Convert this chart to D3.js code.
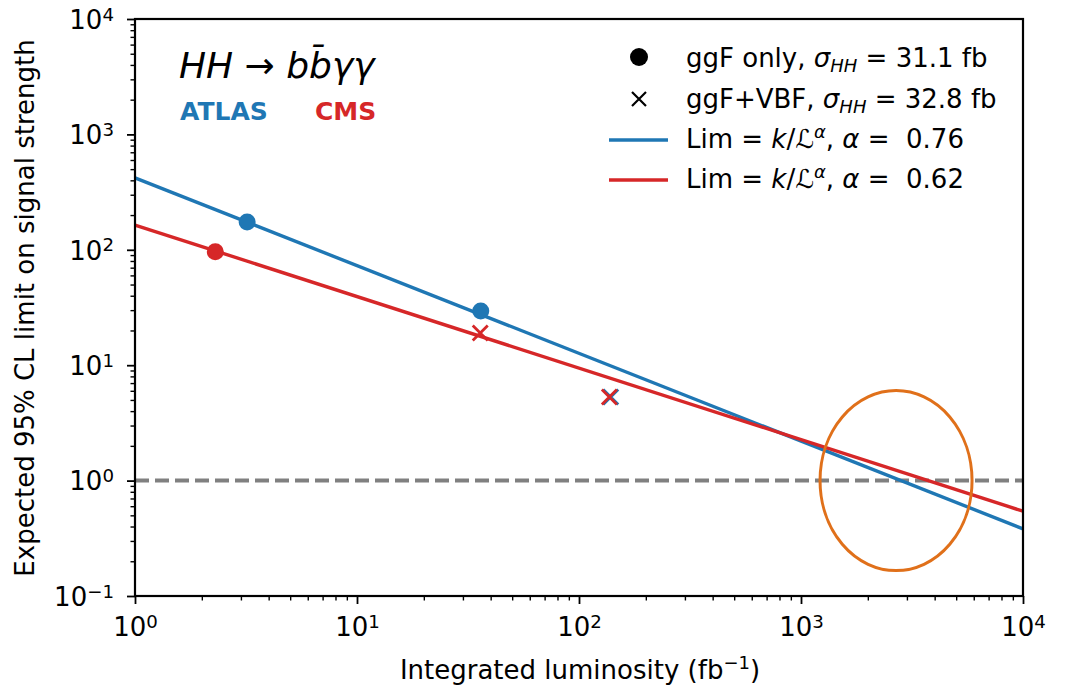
<!DOCTYPE html>
<html>
<head>
<meta charset="utf-8">
<script src="https://cdn.jsdelivr.net/npm/d3@7"></script>
<style>
  body { margin: 0; background: #fff; }
  text { font-family: "DejaVu Sans", sans-serif; }
</style>
</head>
<body>
<div id="chart"></div>
<script>
// measured points (luminosity in fb^-1, expected limit)
const atlasLumi = [3.2, 36.1, 139];
const atlasLimit = [174, 29.5, 5.3];
const atlasKind = ['dot', 'dot', 'cross'];

const cmsLumi = [2.3, 35.9, 137];
const cmsLimit = [96, 19, 5.3];
const cmsKind = ['dot', 'cross', 'cross'];

// fitted power laws, read at both ends of the x range
const atlasFit = [[1, 420], [10000, 0.382]];
const cmsFit = [[1, 164], [10000, 0.543]];

const xTicks = [1, 10, 100, 1000, 10000];
const yTicks = [0.1, 1, 10, 100, 1000, 10000];

const width = 1067;
const height = 685;
const margin = {top: 19, bottom: 89, left: 135, right: 44};
const fs = 26;

const blue = '#1f77b4';
const red = '#d62728';

const svg = d3.select('#chart')
  .append('svg')
  .attr('width', width)
  .attr('height', height);

const x = d3.scaleLog()
  .domain([1, 10000])
  .range([margin.left, width - margin.right]);

const y = d3.scaleLog()
  .domain([0.1, 10000])
  .range([height - margin.bottom, margin.top]);

const supNum = {'-1': '−1', '0': '0', '1': '1', '2': '2', '3': '3', '4': '4'};
function expLabel(sel, v) {
  const e = Math.round(Math.log10(v));
  sel.text('10').append('tspan')
    .attr('dy', '-0.45em')
    .attr('font-size', '0.7em')
    .text(supNum[e]);
}

// minor ticks
function minors(domain) {
  const out = [];
  for (let p = Math.log10(domain[0]); p < Math.log10(domain[1]); p++) {
    for (let m = 2; m <= 9; m++) out.push(m * Math.pow(10, p));
  }
  return out;
}

function xAxis(g) {
  g.attr('transform', `translate(0, ${height - margin.bottom})`)
    .call(d3.axisBottom(x).tickValues(xTicks).tickSize(8).tickSizeOuter(0).tickFormat(''))
  g.select('.domain').remove();
  g.selectAll('.tick line').attr('stroke-width', 1.8);
  g.selectAll('.tick').append('text')
    .attr('y', 40)
    .attr('x', 0)
    .attr('fill', '#000')
    .attr('font-size', fs)
    .attr('text-anchor', 'middle')
    .each(function(d) { expLabel(d3.select(this), d); });
}

function xMinor(g) {
  g.attr('transform', `translate(0, ${height - margin.bottom})`)
    .call(d3.axisBottom(x).tickValues(minors(x.domain())).tickSize(4.5).tickFormat(''));
  g.select('.domain').remove();
  g.selectAll('.tick line').attr('stroke-width', 1.4);
}

function yAxis(g) {
  g.attr('transform', `translate(${margin.left}, 0)`)
    .call(d3.axisLeft(y).tickValues(yTicks).tickSize(8).tickFormat(''));
  g.select('.domain').remove();
  g.selectAll('.tick line').attr('stroke-width', 1.8);
  g.selectAll('.tick').append('text')
    .attr('x', -21)
    .attr('dy', '0.36em')
    .attr('fill', '#000')
    .attr('font-size', fs)
    .attr('text-anchor', 'end')
    .each(function(d) { expLabel(d3.select(this), d); });
}

function yMinor(g) {
  g.attr('transform', `translate(${margin.left}, 0)`)
    .call(d3.axisLeft(y).tickValues(minors(y.domain())).tickSize(4.5).tickFormat(''));
  g.select('.domain').remove();
  g.selectAll('.tick line').attr('stroke-width', 1.4);
}

svg.append('g').call(xMinor);
svg.append('g').call(yMinor);
svg.append('g').call(xAxis);
svg.append('g').call(yAxis);

// reference line at 1
svg.append('line')
  .attr('x1', x(1)).attr('x2', x(10000))
  .attr('y1', y(1)).attr('y2', y(1))
  .attr('stroke', '#808080')
  .attr('stroke-width', 4)
  .attr('stroke-dasharray', '14,6');

// fit lines
const line = d3.line().x(d => x(d[0])).y(d => y(d[1]));
svg.append('path').datum(atlasFit)
  .attr('d', line).attr('fill', 'none')
  .attr('stroke', blue).attr('stroke-width', 3.4);
svg.append('path').datum(cmsFit)
  .attr('d', line).attr('fill', 'none')
  .attr('stroke', red).attr('stroke-width', 3.4);

function drawPoints(lumi, lim, kind, color) {
  const pts = lumi.map((l, i) => ({l, v: lim[i], k: kind[i]}));
  svg.append('g').selectAll('circle')
    .data(pts.filter(d => d.k === 'dot'))
    .join('circle')
      .attr('cx', d => x(d.l))
      .attr('cy', d => y(d.v))
      .attr('r', 8.5)
      .attr('fill', color);
  const s = 7.5;
  svg.append('g').selectAll('path')
    .data(pts.filter(d => d.k === 'cross'))
    .join('path')
      .attr('d', d => {
        const cx = x(d.l), cy = y(d.v);
        return `M${cx - s},${cy - s}L${cx + s},${cy + s}M${cx - s},${cy + s}L${cx + s},${cy - s}`;
      })
      .attr('stroke', color)
      .attr('stroke-width', 2.8)
      .attr('fill', 'none');
}
drawPoints(atlasLumi, atlasLimit, atlasKind, blue);
drawPoints(cmsLumi, cmsLimit, cmsKind, red);

// highlight ellipse
svg.append('ellipse')
  .attr('cx', x(2680)).attr('cy', y(1))
  .attr('rx', 76).attr('ry', 90)
  .attr('fill', 'none')
  .attr('stroke', '#e0701a')
  .attr('stroke-width', 3);

// frame
svg.append('rect')
  .attr('x', margin.left).attr('y', margin.top)
  .attr('width', width - margin.left - margin.right)
  .attr('height', height - margin.top - margin.bottom)
  .attr('fill', 'none')
  .attr('stroke', '#000')
  .attr('stroke-width', 2.2);

// titles
const title = svg.append('text')
  .attr('x', 179).attr('y', 78)
  .attr('font-size', 36)
  .attr('font-style', 'italic');
title.append('tspan').text('HH');
title.append('tspan').attr('font-style', 'normal').text(' → ');
title.append('tspan').text('b');
title.append('tspan').text('b\u0304');
title.append('tspan').text('γγ');

svg.append('text')
  .attr('x', 180).attr('y', 120)
  .attr('font-size', 25).attr('font-weight', 'bold')
  .attr('fill', blue).text('ATLAS');
svg.append('text')
  .attr('x', 315).attr('y', 120)
  .attr('font-size', 25).attr('font-weight', 'bold')
  .attr('fill', red).text('CMS');

// legend
const lg = svg.append('g').attr('font-size', fs);
lg.append('circle').attr('cx', 639).attr('cy', 57).attr('r', 9).attr('fill', '#000');
lg.append('path').attr('d', 'M632,92L646,106M632,106L646,92')
  .attr('stroke', '#000').attr('stroke-width', 2.2).attr('fill', 'none');
lg.append('line').attr('x1', 609).attr('x2', 668).attr('y1', 140).attr('y2', 140)
  .attr('stroke', blue).attr('stroke-width', 3.5);
lg.append('line').attr('x1', 609).attr('x2', 668).attr('y1', 180).attr('y2', 180)
  .attr('stroke', red).attr('stroke-width', 3.5);

function sigmaText(yy, pre, post) {
  const t = lg.append('text').attr('x', 686).attr('y', yy);
  t.append('tspan').text(pre);
  t.append('tspan').attr('font-style', 'italic').text('σ');
  t.append('tspan').attr('font-style', 'italic').attr('font-size', 18).attr('dy', 5).text('HH');
  t.append('tspan').attr('dy', -5).text('\u00a0=\u00a0' + post);
}
sigmaText(67, 'ggF only, ', '31.1 fb');
sigmaText(108, 'ggF+VBF, ', '32.8 fb');

function limText(yy, a) {
  const t = lg.append('text').attr('x', 686).attr('y', yy);
  t.append('tspan').text('Lim = ');
  t.append('tspan').attr('font-style', 'italic').text('k');
  t.append('tspan').text('/');
  t.append('tspan').attr('font-style', 'italic').text('ℒ');
  t.append('tspan').attr('font-style', 'italic').attr('font-size', 18).attr('dy', -10).text('α');
  t.append('tspan').attr('dy', 10).text(', ');
  t.append('tspan').attr('font-style', 'italic').text('α');
  t.append('tspan').text('\u00a0=\u00a0\u00a0' + a);
}
limText(148, '0.76');
limText(188, '0.62');

// axis labels
const xl = svg.append('text')
  .attr('x', 580).attr('y', 679)
  .attr('text-anchor', 'middle')
  .attr('font-size', fs);
xl.append('tspan').text('Integrated luminosity (fb');
xl.append('tspan').attr('font-size', 18).attr('dy', -10).text('−1');
xl.append('tspan').attr('dy', 10).text(')');

svg.append('text')
  .attr('transform', 'translate(34, 308) rotate(-90)')
  .attr('text-anchor', 'middle')
  .attr('font-size', fs)
  .text('Expected 95% CL limit on signal strength');
</script>
</body>
</html>
